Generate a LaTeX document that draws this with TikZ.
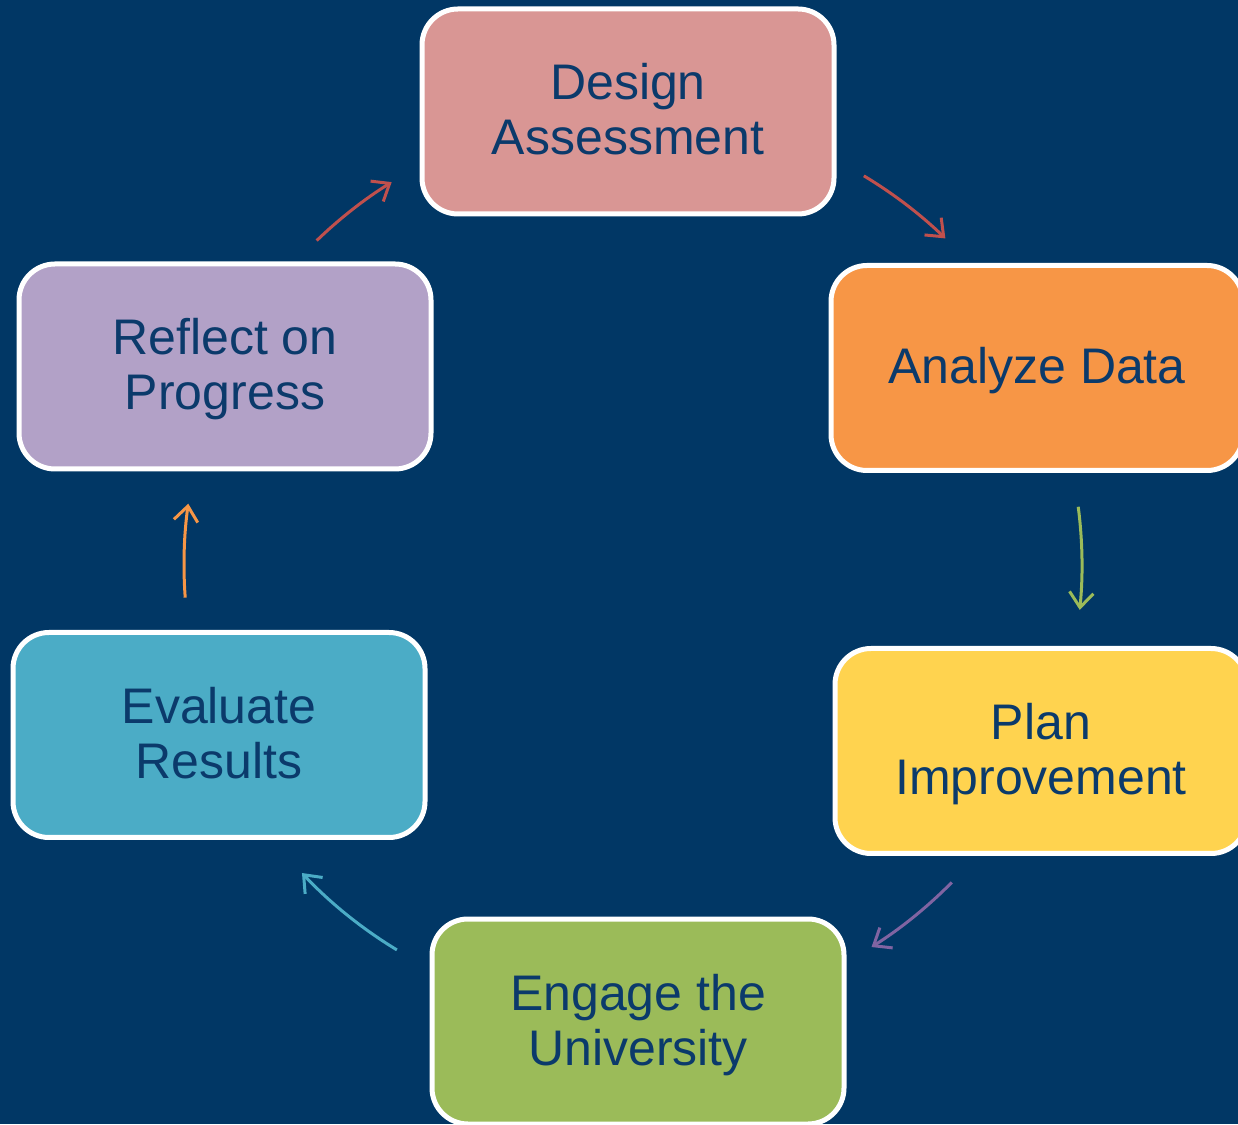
\documentclass[tikz,border=0pt]{standalone}
\usepackage{fontspec}
\setmainfont{Liberation Sans}
\usetikzlibrary{arrows.meta,calc}
\definecolor{bg}{HTML}{013765}
\definecolor{txt}{HTML}{0B3A6B}
\definecolor{cDesign}{HTML}{D99694}
\definecolor{cAnalyze}{HTML}{F79646}
\definecolor{cPlan}{HTML}{FFD34F}
\definecolor{cEngage}{HTML}{9BBB59}
\definecolor{cEval}{HTML}{4BACC6}
\definecolor{cReflect}{HTML}{B2A1C7}
\definecolor{aRed}{HTML}{C0504D}
\definecolor{aPurple}{HTML}{8064A2}
\newcommand\boxtxt[1]{\raisebox{-5pt}[\height][\depth]{\begin{tabular}{@{}c@{}}#1\end{tabular}}}
\tikzset{
  stepbox/.style={draw=white, line width=5pt, rounded corners=36pt,
    minimum width=412pt, minimum height=205pt, inner sep=0pt,
    text=txt, font=\fontsize{50}{55}\selectfont},
  cyc/.style={line width=3pt, -{Straight Barb[length=15pt,width=24pt]}}
}
\begin{document}
\begin{tikzpicture}[x=1pt,y=1pt]
\fill[bg] (0,0) rectangle (1238,1124);
\useasboundingbox (0,0) rectangle (1238,1124);
\coordinate (ctr) at (630,559);
\node[stepbox, fill=cDesign] (design) at (628,1012.5) {\boxtxt{Design\\Assessment}};
\node[stepbox, fill=cAnalyze] (analyze) at (1037,756) {\boxtxt{Analyze Data}};
\node[stepbox, fill=cPlan] (plan) at (1041,373) {\boxtxt{Plan\\Improvement}};
\node[stepbox, fill=cEngage] (engage) at (638,102.5) {\boxtxt{Engage the\\University}};
\node[stepbox, fill=cEval] (eval) at (219,389) {\boxtxt{Evaluate\\Results}};
\node[stepbox, fill=cReflect] (reflect) at (225,757.5) {\boxtxt{Reflect on\\Progress}};
\coordinate (a1) at ($(ctr)+(59:454)$);
\coordinate (a2) at ($(ctr)+(7.4:452)$);
\coordinate (a3) at ($(ctr)+(-44.6:452)$);
\coordinate (a4) at ($(ctr)+(-121.2:450)$);
\coordinate (a5) at ($(ctr)+(184.2:446)$);
\coordinate (a6) at ($(ctr)+(134:451)$);
\draw[cyc, aRed] (a1) arc[start angle=59, end angle=46, radius=454pt];
\draw[cyc, cEngage] (a2) arc[start angle=7.4, end angle=-5.7, radius=452pt];
\draw[cyc, aPurple] (a3) arc[start angle=-44.6, end angle=-57.7, radius=452pt];
\draw[cyc, cEval] (a4) arc[start angle=-121.2, end angle=-136.8, radius=450pt];
\draw[cyc, cAnalyze] (a5) arc[start angle=184.2, end angle=172.1, radius=446pt];
\draw[cyc, aRed] (a6) arc[start angle=134, end angle=121.9, radius=451pt];
\end{tikzpicture}
\end{document}
